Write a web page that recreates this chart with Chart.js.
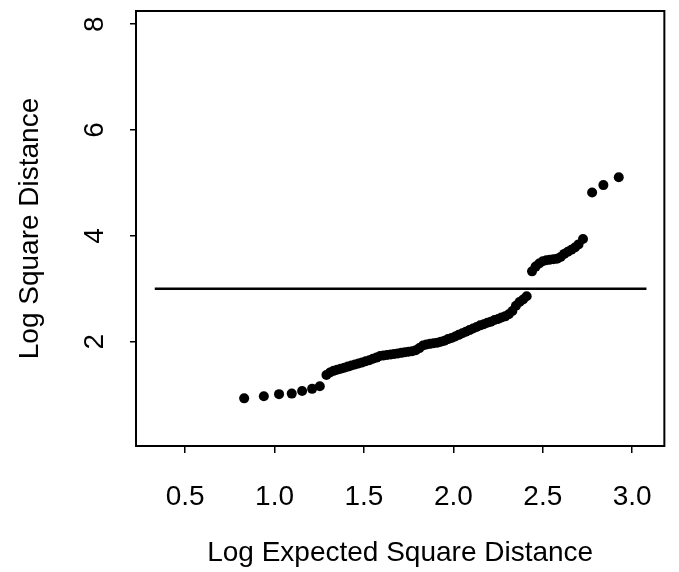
<!DOCTYPE html>
<html>
<head>
<meta charset="utf-8">
<script src="https://cdn.jsdelivr.net/npm/chart.js@4.4.1/dist/chart.umd.min.js"></script>
<style>
    html, body { margin: 0; padding: 0; background: #fff; }
    #wrap { width: 679px; height: 572px; }
</style>
</head>
<body>
<div id="wrap"><canvas id="qq-canvas" width="679" height="572"></canvas></div>
<script>
// values
const expected_x = [
    0.83, 0.94, 1.025, 1.096, 1.154, 1.21, 1.253,
    1.29, 1.31, 1.33, 1.35, 1.37, 1.39, 1.41, 1.43, 1.45, 1.47, 1.49, 1.51, 1.53, 1.55,
    1.57, 1.59, 1.61, 1.63, 1.65, 1.67, 1.69, 1.71, 1.73, 1.75, 1.77, 1.79, 1.81, 1.83,
    1.85, 1.87, 1.89, 1.91, 1.93, 1.95, 1.97, 1.99, 2.01, 2.03, 2.05, 2.07, 2.09, 2.11,
    2.13, 2.15, 2.17, 2.19, 2.21, 2.23, 2.25, 2.27, 2.29, 2.31, 2.33, 2.35, 2.37, 2.39, 2.41,
    2.44, 2.46, 2.48, 2.50, 2.52, 2.54, 2.56, 2.58, 2.60, 2.62, 2.64, 2.66, 2.68, 2.70, 2.725,
    2.776, 2.839, 2.925
]
const observed_y = [
    0.93, 0.97, 1.01, 1.02, 1.07, 1.11, 1.16,
    1.37, 1.42, 1.45, 1.47, 1.49, 1.51, 1.53, 1.55, 1.57, 1.59, 1.61, 1.63, 1.65, 1.68,
    1.70, 1.73, 1.74, 1.75, 1.76, 1.77, 1.78, 1.79, 1.80, 1.81, 1.82, 1.84, 1.88, 1.93,
    1.95, 1.96, 1.97, 1.98, 2.00, 2.02, 2.05, 2.07, 2.10, 2.13, 2.16, 2.19, 2.22, 2.25,
    2.28, 2.31, 2.33, 2.36, 2.38, 2.41, 2.43, 2.46, 2.48, 2.52, 2.58, 2.68, 2.75, 2.80, 2.86,
    3.33, 3.42, 3.48, 3.52, 3.54, 3.55, 3.56, 3.57, 3.60, 3.66, 3.70, 3.74, 3.78, 3.84, 3.94,
    4.82, 4.96, 5.11
]
const cutoff_x = [0.33, 3.08]
const cutoff_y = [3, 3]

const x_ticks = [0.5, 1.0, 1.5, 2.0, 2.5, 3.0]
const y_ticks = [2, 4, 6, 8]

const font_family = "'Liberation Sans', Arial, Helvetica, sans-serif"
const font_size = 28

function toPoints(xs, ys){
    let points = []
    for (let i = 0; i < xs.length; i++){
        points.push({x: xs[i], y: ys[i]})
    }
    return points
}

// box round the plot and the y labels turned on their side, like R draws them
const frame_plugin = {
    id: "frame",
    afterDraw(chart){
        const ctx = chart.ctx
        const area = chart.chartArea
        ctx.save()
        ctx.strokeStyle = "#000"
        ctx.lineWidth = 2
        ctx.strokeRect(area.left, area.top, area.right - area.left, area.bottom - area.top)

        const y_scale = chart.scales.y
        ctx.fillStyle = "#000"
        ctx.font = font_size + "px " + font_family
        ctx.textAlign = "center"
        ctx.textBaseline = "middle"
        y_ticks.forEach(function(v){
            ctx.save()
            ctx.translate(95, y_scale.getPixelForValue(v))
            ctx.rotate(-Math.PI / 2)
            ctx.fillText(String(v), 0, 0)
            ctx.restore()
        })
        ctx.restore()
    }
}

new Chart(document.getElementById("qq-canvas"), {
    type: "scatter",
    data: {
        datasets: [{
            data: toPoints(expected_x, observed_y),
            backgroundColor: "#000",
            borderWidth: 0,
            pointRadius: 5
        }, {
            type: "line",
            data: toPoints(cutoff_x, cutoff_y),
            borderColor: "#000",
            borderWidth: 2.5,
            pointRadius: 0,
            fill: false
        }]
    },
    options: {
        responsive: false,
        animation: false,
        events: [],
        layout: {
            padding: {top: 11, right: 6, left: 0, bottom: 0}
        },
        plugins: {
            legend: {display: false},
            tooltip: {enabled: false}
        },
        scales: {
            x: {
                type: "linear",
                min: 0.225,
                max: 3.18,
                afterBuildTicks: function(scale){
                    scale.ticks = x_ticks.map(v => ({value: v}))
                },
                afterFit: function(scale){ scale.height = 126 },
                grid: {drawOnChartArea: false, drawTicks: true, tickLength: 7, color: "#000", lineWidth: 1.5},
                border: {display: false},
                ticks: {
                    color: "#000",
                    padding: 27,
                    font: {family: font_family, size: font_size},
                    callback: v => v.toFixed(1)
                },
                title: {
                    display: true,
                    text: "Log Expected Square Distance",
                    color: "#000",
                    font: {family: font_family, size: font_size},
                    padding: {top: 0, bottom: 2}
                }
            },
            y: {
                type: "linear",
                min: 0.03,
                max: 8.25,
                afterBuildTicks: function(scale){
                    scale.ticks = y_ticks.map(v => ({value: v}))
                },
                afterFit: function(scale){ scale.width = 136 },
                grid: {drawOnChartArea: false, drawTicks: true, tickLength: 6, color: "#000", lineWidth: 1.5},
                border: {display: false},
                ticks: {display: false},
                title: {
                    display: true,
                    text: "Log Square Distance",
                    color: "#000",
                    font: {family: font_family, size: font_size},
                    padding: {top: 13, bottom: 0}
                }
            }
        }
    },
    plugins: [frame_plugin]
})
</script>
</body>
</html>
